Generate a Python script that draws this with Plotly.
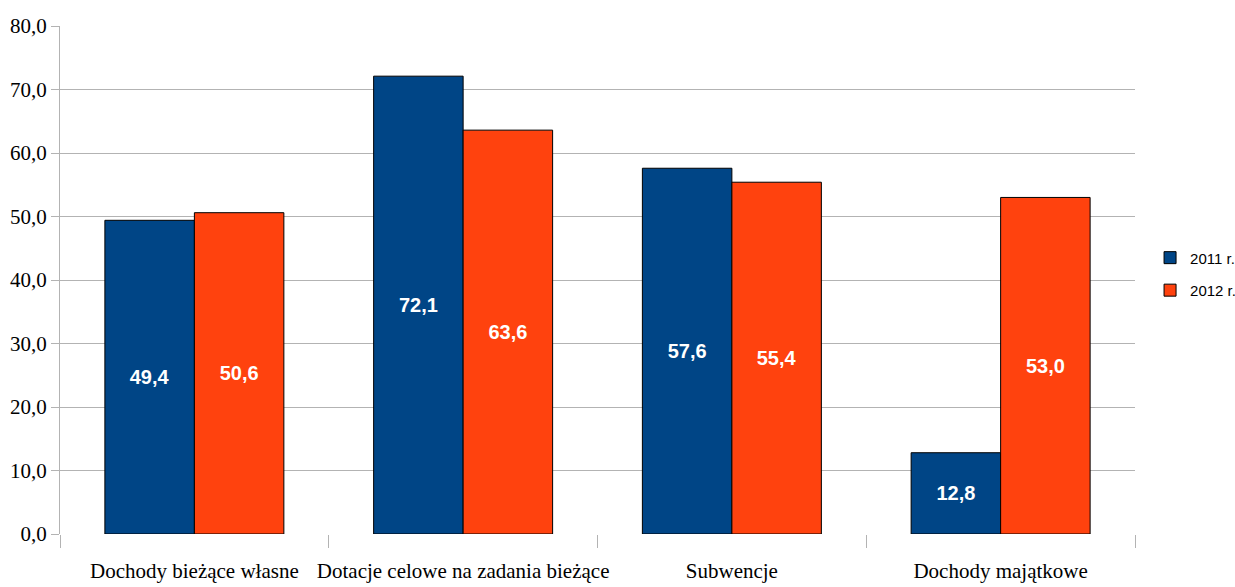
import plotly.graph_objects as go

categories = ["Dochody bieżące własne", "Dotacje celowe na zadania bieżące", "Subwencje", "Dochody majątkowe"]
series_names = ["2011 r.", "2012 r."]
values_2011 = [49.4, 72.1, 57.6, 12.8]
values_2012 = [50.6, 63.6, 55.4, 53.0]
colors = ["#004586", "#ff420e"]
y_ticks = [0, 10, 20, 30, 40, 50, 60, 70, 80]

fig = go.Figure()
for i, (name, vals) in enumerate(zip(series_names, [values_2011, values_2012])):
    fig.add_trace(go.Bar(
        x=categories, y=vals, name=name, legendgroup=name,
        marker=dict(color=colors[i], line=dict(color="#000000", width=1)),
        texttemplate="<b>%{y:.1f}</b>", textposition="inside",
        insidetextanchor="middle", textangle=0,
        textfont=dict(family="Liberation Sans, Arial, sans-serif", size=20, color="#ffffff"),
        hoverinfo="skip",
    ))

fig.update_layout(
    width=1235, height=587,
    margin=dict(l=60, r=100, t=26, b=53, autoexpand=False),
    paper_bgcolor="#ffffff", plot_bgcolor="#ffffff",
    barmode="group", bargap=0.334, bargroupgap=0,
    separators=", ",
    showlegend=True,
    legend=dict(
        x=1.014, y=0.512, xanchor="left", yanchor="middle",
        font=dict(family="Liberation Sans, Arial, sans-serif", size=15, color="#000000"),
        traceorder="grouped", tracegroupgap=10,
        bgcolor="rgba(0,0,0,0)", itemwidth=30,
    ),
    xaxis=dict(
        type="category", tickson="boundaries", ticks="outside", ticklen=13,
        tickcolor="#b3b3b3", showgrid=False, showline=False, zeroline=False,
        tickangle=0, automargin=False, ticklabelstandoff=22,
        tickfont=dict(family="Liberation Serif, Times New Roman, serif", size=21, color="#000000"),
        fixedrange=True,
    ),
    yaxis=dict(
        range=[0, 80], tickvals=y_ticks, tickformat=".1f",
        ticks="outside", ticklen=8, tickcolor="#b3b3b3",
        showgrid=True, gridcolor="#b3b3b3", gridwidth=1,
        showline=True, linecolor="#b3b3b3", linewidth=1,
        zeroline=False, automargin=False,
        tickfont=dict(family="Liberation Serif, Times New Roman, serif", size=21, color="#000000"),
        fixedrange=True,
    ),
)

fig.write_html("out.html")
